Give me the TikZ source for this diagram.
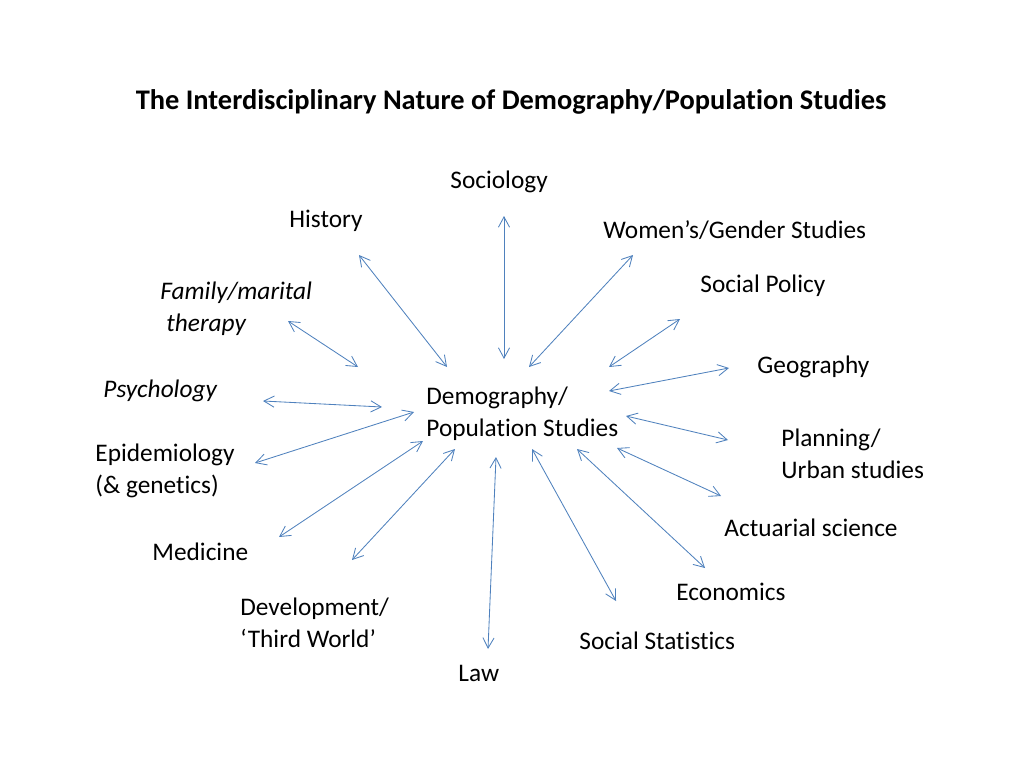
\documentclass[tikz,border=0pt]{standalone}
\usepackage{fontspec}
\setmainfont{Carlito}[Ligatures=NoCommon]
\usepackage{tikz}
\usetikzlibrary{arrows.meta}
\usetikzlibrary{positioning}
\definecolor{linkblue}{RGB}{79,129,189}
\tikzset{every picture/.style={line width=0.6pt},
  field/.style={anchor=west,align=left,inner sep=0pt,font=\fontsize{18pt}{22.5pt}\selectfont},
  link/.style={linkblue,{Straight Barb[length=2.6mm,width=2.8mm]}-{Straight Barb[length=2.6mm,width=2.8mm]}}}

\begin{document}
\begin{tikzpicture}[x=0.025cm,y=-0.025cm]
\useasboundingbox (0,0) rectangle (1024,768);
\node (title) at (511,102) [font=\fontsize{20.2pt}{24pt}\selectfont\bfseries] {The Interdisciplinary Nature of Demography/Population Studies};

\node (dem) at (426,414) [field] {Demography/\\Population Studies};
\node (soc) at (450,182) [field] {Sociology};
\node (hist) at (289,221) [field] {History};
\node (wom) at (603,230) [field] {Women’s/Gender Studies};
\node (pol) at (700,286) [field] {Social Policy};
\node (fam) at (160,309) [field,font=\fontsize{18pt}{22.5pt}\selectfont\itshape] {Family/marital\\\hspace{0.15cm}therapy};
\node (geo) at (757,367) [field] {Geography};
\node (psy) at (103,391) [field,font=\fontsize{18pt}{22.5pt}\selectfont\itshape] {Psychology};
\node (epi) at (95,471) [field] {Epidemiology\\(\& genetics)};
\node (plan) at (781,454) [field] {Planning/\\Urban studies};
\node (act) at (724,528) [field] {Actuarial science};
\node (med) at (152,552) [field] {Medicine};
\node (eco) at (676,592) [field] {Economics};
\node (dev) at (240,623) [field] {Development/\\‘Third World’};
\node (stat) at (579,641) [field] {Social Statistics};
\node (law) at (458,673) [field] {Law};

% links between the centre and each discipline
\foreach \n/\ax/\ay/\bx/\by in {soc/504/216/504/359, hist/359/255/447/367, wom/633/255/529/367,
  pol/680/319/609/367, geo/729/368/609/391, plan/626/416/728/440, act/617/448/721/496,
  eco/577/449/705/568, stat/532/449/616/601, law/496/457/488/649, dev/455/449/352/560,
  med/423/441/279/537, epi/414/412/255/463, psy/263/401/382/407, fam/288/321/358/367} {
\coordinate (\n-a) at (\ax,\ay);
\coordinate (\n-b) at (\bx,\by);
\draw[link] (\n-a) -- (\n-b);
}
\end{tikzpicture}
\end{document}
